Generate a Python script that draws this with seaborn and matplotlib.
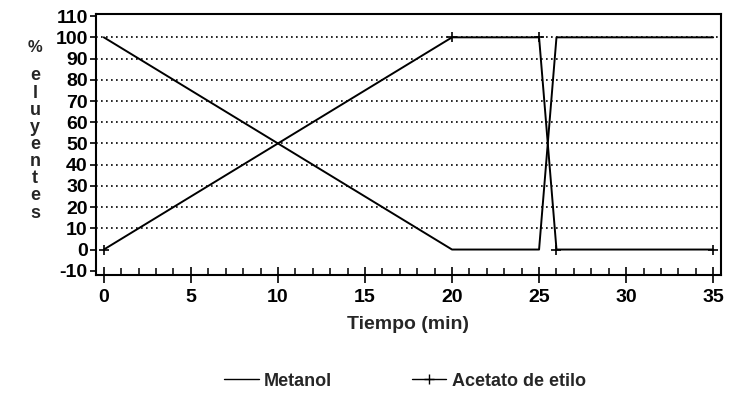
import matplotlib
matplotlib.use("Agg")
import matplotlib.pyplot as plt
from matplotlib.lines import Line2D
from matplotlib.ticker import MultipleLocator
import seaborn as sns
import pandas as pd

tiempo = [0, 20, 25, 26, 35]
metanol = [100, 0, 0, 100, 100]
acetato = [0, 100, 100, 0, 0]
series_names = ["Metanol", "Acetato de etilo"]
y_ticks = [-10, 0, 10, 20, 30, 40, 50, 60, 70, 80, 90, 100, 110]
x_ticks = [0, 5, 10, 15, 20, 25, 30, 35]

sns.set_theme(style="white")
plt.rcParams['font.family'] = ['Liberation Sans', 'DejaVu Sans']
plt.rcParams['axes.unicode_minus'] = False

fig = plt.figure(figsize=(7.29, 3.94), dpi=100)
ax = fig.add_axes([96/729, 1 - 275/394, (721 - 96)/729, (275 - 14)/394])

df_m = pd.DataFrame({"t": tiempo, "v": metanol})
df_a = pd.DataFrame({"t": tiempo, "v": acetato})
sns.lineplot(data=df_m, x="t", y="v", ax=ax, color="black", lw=1.4, zorder=3)
sns.lineplot(data=df_a, x="t", y="v", ax=ax, color="black", lw=1.4, marker="+",
             markersize=7, markeredgewidth=1.2, markeredgecolor="black", zorder=3)

for y in range(10, 101, 10):
    ax.axhline(y, color="black", lw=1.2, ls=(0, (1, 2.0)), zorder=1)

ax.set_xlim(-0.45, 35.45)
ax.set_ylim(-12, 111)
ax.set_xticks(x_ticks)
ax.set_yticks(y_ticks)
ax.xaxis.set_minor_locator(MultipleLocator(1))
ax.tick_params(axis="x", which="major", direction="inout", length=12, width=1.2,
               bottom=True, labelsize=14, pad=4, colors="black")
ax.tick_params(axis="x", which="minor", direction="in", length=5, width=1.1, bottom=True, color="black")
ax.tick_params(axis="y", which="major", direction="out", length=4, width=1.2, left=True,
               labelsize=14, pad=2, colors="black")
for lab in ax.get_xticklabels() + ax.get_yticklabels():
    lab.set_fontweight("bold")
for s in ax.spines.values():
    s.set_color("black")
    s.set_linewidth(1.5)

ax.set_xlabel("Tiempo (min)", fontsize=14, fontweight="bold", labelpad=7)
ax.set_ylabel("")
fig.text(35/729, 1 - 47/394, "%", fontsize=12, fontweight="bold", ha="center", va="center")
letters = "eluyentes"
y0, y1 = 76, 213
for i, ch in enumerate(letters):
    yy = y0 + i * (y1 - y0) / (len(letters) - 1)
    fig.text(35/729, 1 - yy/394, ch, fontsize=13, fontweight="bold", ha="center", va="center")

handles = [Line2D([], [], color="black", lw=1.0),
           Line2D([], [], color="black", lw=1.0, marker="+", markersize=7)]
fig.legend(handles, series_names, loc="center", bbox_to_anchor=(405/729, 1 - 381/394),
           ncol=2, frameon=False, prop={"weight": "bold", "size": 13},
           handlelength=1.9, columnspacing=4.4, handletextpad=0.3)

fig.savefig("out.png", dpi=100)
